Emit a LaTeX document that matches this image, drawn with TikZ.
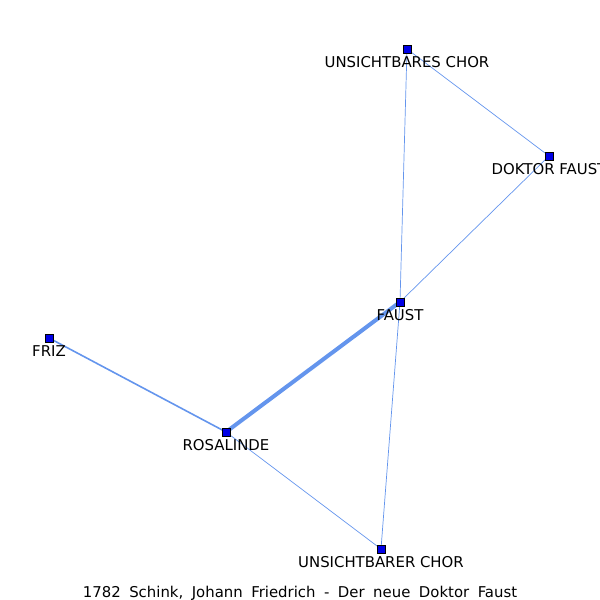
\documentclass[tikz,border=0pt]{standalone}
\usepackage{fontspec}
\setmainfont{DejaVu Sans}
\definecolor{edgeblue}{RGB}{100,149,237}
\definecolor{nodeblue}{RGB}{0,0,230}
\tikzset{
  person/.style={draw=black,fill=nodeblue,line width=0.6pt,minimum size=8pt,inner sep=0pt},
  lbl/.style={anchor=base,font=\fontsize{14.9}{17}\selectfont,inner sep=0pt},
  tie/.style={draw=edgeblue,line width=0.7pt},
  tiemid/.style={draw=edgeblue,line width=1.6pt},
  tiebig/.style={draw=edgeblue,line width=4pt}
}
\begin{document}
\begin{tikzpicture}[x=1pt,y=-1pt]

%Frame
\useasboundingbox (0,0) rectangle (600,600);
\clip (0,0) rectangle (600,600);

%Characters
\coordinate (uchorP) at (407,49);
\coordinate (doktorP) at (549,156);
\coordinate (faustP) at (400,302);
\coordinate (frizP) at (49,338);
\coordinate (rosaP) at (226,432);
\coordinate (uchorerP) at (381,549);

%Ties between characters
\draw[tie] (uchorP) -- (doktorP);
\draw[tie] (uchorP) -- (faustP);
\draw[tie] (doktorP) -- (faustP);
\draw[tiebig] (faustP) -- (rosaP);
\draw[tiemid] (frizP) -- (rosaP);
\draw[tie] (rosaP) -- (uchorerP);
\draw[tie] (faustP) -- (uchorerP);

%Markers
\node[person] (uchor) at (uchorP) {};
\node[person] (doktor) at (doktorP) {};
\node[person] (faust) at (faustP) {};
\node[person] (friz) at (frizP) {};
\node[person] (rosa) at (rosaP) {};
\node[person] (uchorer) at (uchorerP) {};

%Names
\node[lbl] (uchor-l) at ([yshift=-18.5pt]uchor.center) {UNSICHTBARES CHOR};
\node[lbl] (doktor-l) at ([yshift=-18.5pt]doktor.center) {DOKTOR FAUST};
\node[lbl] (faust-l) at ([yshift=-18.5pt]faust.center) {FAUST};
\node[lbl] (friz-l) at ([yshift=-18.5pt]friz.center) {FRIZ};
\node[lbl] (rosa-l) at ([yshift=-18.5pt]rosa.center) {ROSALINDE};
\node[lbl] (uchorer-l) at ([yshift=-18.5pt]uchorer.center) {UNSICHTBARER CHOR};

%Title
\node[lbl] (title) at (300,597)
  {1782\hspace{8.5pt}Schink,\hspace{8.5pt}Johann\hspace{8.5pt}Friedrich\hspace{8.5pt}-\hspace{8.5pt}Der\hspace{8.5pt}neue\hspace{8.5pt}Doktor\hspace{8.5pt}Faust};
\end{tikzpicture}
\end{document}
